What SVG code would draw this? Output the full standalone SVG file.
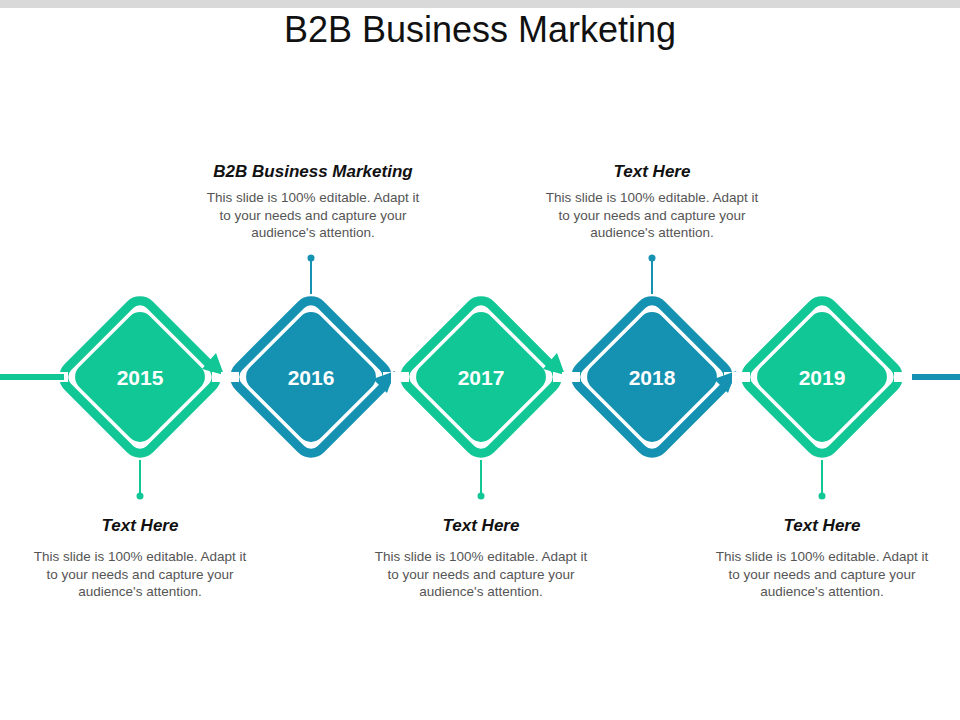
<svg xmlns="http://www.w3.org/2000/svg" width="960" height="720" viewBox="0 0 960 720">
<style>
.g{fill:#12C796}.b{fill:#1591B1}
.gs{stroke:#12C796}.bs{stroke:#1591B1}
.ring{fill:none;stroke-width:9}
.yr{font:bold 21px "Liberation Sans",Arial,sans-serif;fill:#fff;text-anchor:middle}
.h{font:italic bold 17px "Liberation Sans",Arial,sans-serif;fill:#111;text-anchor:middle}
.d{font:13.5px "Liberation Sans",Arial,sans-serif;fill:#555;text-anchor:middle}
.t{font:36px "Liberation Sans",Arial,sans-serif;fill:#111;text-anchor:middle}
</style>
<defs>
<g id="ring"><rect x="-58" y="-58" width="116" height="116" rx="14" transform="rotate(45)" class="ring"/></g>
<rect id="inner" x="-50" y="-50" width="100" height="100" rx="14" transform="rotate(45)"/>
</defs>
<rect x="0" y="0" width="960" height="8" fill="#d9d9d9"/>
<text class="t" x="480" y="42">B2B Business Marketing</text>
<g id="connectors" stroke-width="2">
<rect x="0" y="374" width="68" height="6" class="g"/>
<rect x="895" y="374" width="65" height="6" class="b"/>
<line x1="140" y1="460" x2="140" y2="496" class="gs"/><circle cx="140" cy="496" r="3.5" class="g"/>
<line x1="311" y1="258" x2="311" y2="294" class="bs"/><circle cx="311" cy="258" r="3.5" class="b"/>
<line x1="481" y1="460" x2="481" y2="496" class="gs"/><circle cx="481" cy="496" r="3.5" class="g"/>
<line x1="652" y1="258" x2="652" y2="294" class="bs"/><circle cx="652" cy="258" r="3.5" class="b"/>
<line x1="822" y1="460" x2="822" y2="496" class="gs"/><circle cx="822" cy="496" r="3.5" class="g"/>
</g>
<g id="n2015" transform="translate(140,377)">
<use href="#ring" class="gs"/><rect x="-90" y="-5" width="18" height="10" fill="#fff"/><rect x="72" y="-5" width="18" height="10" fill="#fff"/>
<rect x="-90" y="-3" width="14" height="6" class="g"/>
<polygon points="84,-2 76,-24 62,-8" class="g"/>
<use href="#inner" class="g"/><text class="yr" x="0" y="8">2015</text></g>
<g id="n2016" transform="translate(311,377)">
<use href="#ring" class="bs"/><rect x="-90" y="-5" width="18" height="10" fill="#fff"/><rect x="72" y="-5" width="18" height="10" fill="#fff"/>
<polygon points="84,-6 62,2 76,16" class="b"/>
<use href="#inner" class="b"/><text class="yr" x="0" y="8">2016</text></g>
<g id="n2017" transform="translate(481,377)">
<use href="#ring" class="gs"/><rect x="-90" y="-5" width="18" height="10" fill="#fff"/><rect x="72" y="-5" width="18" height="10" fill="#fff"/>
<polygon points="84,-2 76,-24 62,-8" class="g"/>
<use href="#inner" class="g"/><text class="yr" x="0" y="8">2017</text></g>
<g id="n2018" transform="translate(652,377)">
<use href="#ring" class="bs"/><rect x="-90" y="-5" width="18" height="10" fill="#fff"/><rect x="72" y="-5" width="18" height="10" fill="#fff"/>
<polygon points="84,-6 62,2 76,16" class="b"/>
<use href="#inner" class="b"/><text class="yr" x="0" y="8">2018</text></g>
<g id="n2019" transform="translate(822,377)">
<use href="#ring" class="gs"/><rect x="-90" y="-5" width="18" height="10" fill="#fff"/><rect x="72" y="-5" width="18" height="10" fill="#fff"/>
<use href="#inner" class="g"/><text class="yr" x="0" y="8">2019</text></g>
<g id="t1"><text class="h" x="140" y="531">Text Here</text>
<text class="d" x="140" y="561">This slide is 100% editable. Adapt it</text><text class="d" x="140" y="579">to your needs and capture your</text><text class="d" x="140" y="596">audience's attention.</text></g>
<g id="t2"><text class="h" x="313" y="177">B2B Business Marketing</text>
<text class="d" x="313" y="202">This slide is 100% editable. Adapt it</text><text class="d" x="313" y="220">to your needs and capture your</text><text class="d" x="313" y="237">audience's attention.</text></g>
<g id="t3"><text class="h" x="481" y="531">Text Here</text>
<text class="d" x="481" y="561">This slide is 100% editable. Adapt it</text><text class="d" x="481" y="579">to your needs and capture your</text><text class="d" x="481" y="596">audience's attention.</text></g>
<g id="t4"><text class="h" x="652" y="177">Text Here</text>
<text class="d" x="652" y="202">This slide is 100% editable. Adapt it</text><text class="d" x="652" y="220">to your needs and capture your</text><text class="d" x="652" y="237">audience's attention.</text></g>
<g id="t5"><text class="h" x="822" y="531">Text Here</text>
<text class="d" x="822" y="561">This slide is 100% editable. Adapt it</text><text class="d" x="822" y="579">to your needs and capture your</text><text class="d" x="822" y="596">audience's attention.</text></g>
</svg>
